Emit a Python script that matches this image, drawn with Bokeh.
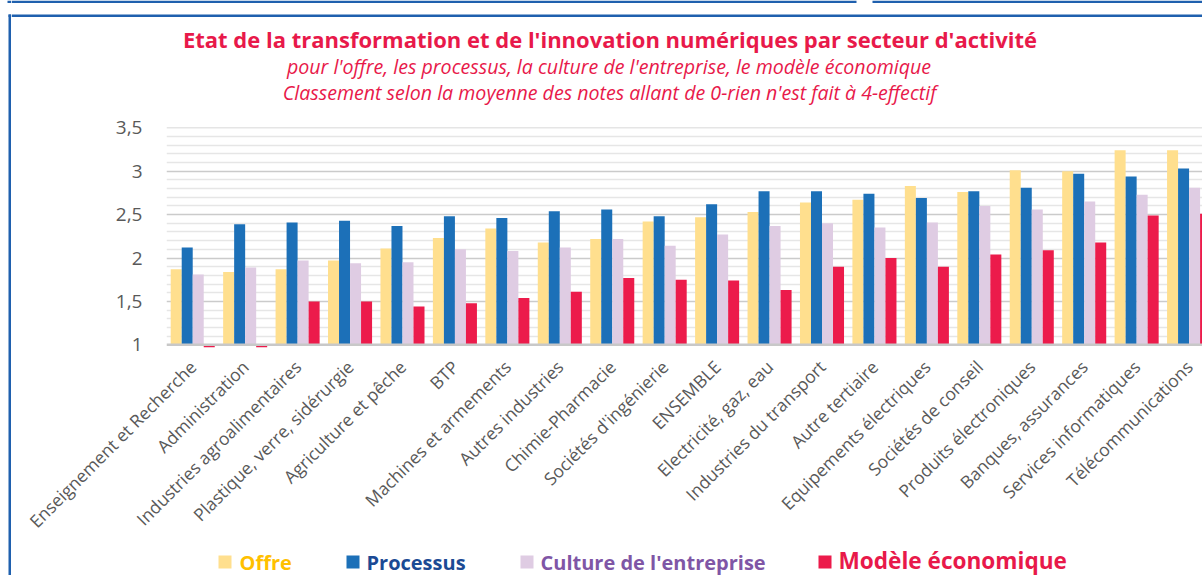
import math
from bokeh.plotting import figure
from bokeh.layouts import column, row
from bokeh.models import ColumnDataSource, FixedTicker, Range1d, Span
from bokeh.core.properties import value
from bokeh.transform import dodge
from bokeh.embed import file_html
from bokeh.resources import INLINE

# ---------------- data ----------------
sectors = ["Enseignement et Recherche", "Administration", "Industries agroalimentaires",
           "Plastique, verre, sidérurgie", "Agriculture et pêche", "BTP",
           "Machines et armements", "Autres industries", "Chimie-Pharmacie",
           "Sociétés d'ingénierie", "ENSEMBLE", "Electricité, gaz, eau",
           "Industries du transport", "Autre tertiaire", "Equipements électriques",
           "Sociétés de conseil", "Produits électroniques", "Banques, assurances",
           "Services informatiques", "Télécommunications"]
offre     = [1.87, 1.84, 1.87, 1.97, 2.11, 2.23, 2.34, 2.18, 2.22, 2.42,
             2.47, 2.53, 2.64, 2.67, 2.83, 2.76, 3.01, 3.00, 3.24, 3.24]
processus = [2.12, 2.39, 2.41, 2.43, 2.37, 2.48, 2.46, 2.54, 2.56, 2.48,
             2.62, 2.77, 2.77, 2.74, 2.69, 2.77, 2.81, 2.97, 2.94, 3.03]
culture   = [1.81, 1.89, 1.97, 1.94, 1.95, 2.10, 2.08, 2.12, 2.22, 2.14,
             2.27, 2.37, 2.40, 2.35, 2.41, 2.60, 2.56, 2.65, 2.73, 2.81]
modele    = [0.97, 0.97, 1.50, 1.50, 1.44, 1.48, 1.54, 1.61, 1.77, 1.75,
             1.74, 1.63, 1.90, 2.00, 1.90, 2.04, 2.09, 2.18, 2.49, 2.51]
series_names = ["Offre", "Processus", "Culture de l'entreprise", "Modèle économique"]
y_ticks = [1, 1.5, 2, 2.5, 3, 3.5]
y_tick_labels = ["1", "1,5", "2", "2,5", "3", "3,5"]
title = "Etat de la transformation et de l'innovation numériques par secteur d'activité"
subtitle1 = "pour l'offre, les processus, la culture de l'entreprise, le modèle économique"
subtitle2 = "Classement selon la moyenne des notes allant de 0-rien n'est fait à 4-effectif"

# ---------------- styles ----------------
FILL = ["#FFDF8E", "#1C70B8", "#DFCCE3", "#EC1B4B"]
LEG_TXT = ["#FFC000", "#1B4A94", "#7F56A6", "#E8194A"]
RED = "#E8194A"
GREY = "#595959"
FONT = "Open Sans"
BORDER = "#1F60AE"

PAGE_W, PAGE_H = 1202, 575
BORDER_W = 11        # strip holding the left frame line
COL_W = PAGE_W - BORDER_W
TOP_H = 110          # title band
LEG_H = 31           # legend band
MAIN_H = PAGE_H - TOP_H - LEG_H

ML, MR, MT = 155, 0, 17
FRAME_H = 220
MB = MAIN_H - MT - FRAME_H
XPX = 52.44
YPX = 86.8
FRAME_W = COL_W - ML - MR
X0 = -0.5
X1 = X0 + FRAME_W / XPX
Y1 = 3.5 + 0.3 / YPX
Y0 = Y1 - FRAME_H / YPX
BASE_SHIFT = 0.37    # alphabetic baseline correction, in em


def blank(w, h, x_left, y_top, y_bottom):
    f = figure(width=w, height=h, output_backend="svg", toolbar_location=None,
               x_range=Range1d(x_left, x_left + w), y_range=Range1d(y_bottom, y_top),
               x_axis_type=None, y_axis_type=None, title=None,
               min_border=0, min_border_left=0, min_border_right=0,
               min_border_top=0, min_border_bottom=0)
    f.outline_line_color = None
    f.grid.visible = False
    f.background_fill_color = "white"
    f.border_fill_color = "white"
    f.frame_align = False
    return f

# ---------------- left frame strip (full height) ----------------
strip = blank(BORDER_W, PAGE_H, 0, 0, PAGE_H)
strip.quad(left=[7, 8, 8], right=[BORDER_W, BORDER_W, 10.5], top=[0, 14, 14],
           bottom=[2.5, 16.5, PAGE_H], fill_color=BORDER, line_color=None)

# ---------------- title band ----------------
top = blank(COL_W, TOP_H, BORDER_W, 0, TOP_H)
top.quad(left=[BORDER_W, 872, BORDER_W], right=[856, PAGE_W, PAGE_W], top=[0, 0, 14],
         bottom=[2.5, 2.5, 16.5], fill_color=BORDER, line_color=None)
top.text(x=[609.5], y=[46.7 - BASE_SHIFT * 22], text=[title], text_align="center",
         text_baseline="alphabetic", text_font=value(FONT), text_font_style="bold",
         text_font_size="22px", text_color=RED)
top.text(x=[608.5, 609], y=[73.3 - BASE_SHIFT * 19.6, 99.3 - BASE_SHIFT * 19.6],
         text=[subtitle1, subtitle2], text_align="center",
         text_baseline="alphabetic", text_font=value(FONT), text_font_style="italic",
         text_font_size="19.6px", text_color=RED)

# ---------------- main chart ----------------
src = ColumnDataSource(dict(x=list(range(len(sectors))), offre=offre,
                            processus=processus, culture=culture, modele=modele))

p = figure(width=COL_W, height=MAIN_H, output_backend="svg", toolbar_location=None,
           title=None, x_range=Range1d(X0, X1), y_range=Range1d(Y0, Y1),
           min_border_left=ML, min_border_right=MR, min_border_top=MT,
           min_border_bottom=MB)
p.outline_line_color = None
p.background_fill_color = "white"
p.border_fill_color = "white"
p.frame_align = False

BW = 0.21
offs = [-0.315, -0.105, 0.105, 0.315]
for col, off, fc in zip(["offre", "processus", "culture", "modele"], offs, FILL):
    p.vbar(x=dodge("x", off, range=p.x_range), top=col, bottom=1, width=BW,
           source=src, fill_color=fc, line_color=None)

p.xaxis.ticker = FixedTicker(ticks=list(range(len(sectors))))
p.xaxis.major_label_overrides = {i: s for i, s in enumerate(sectors)}
p.xaxis.major_label_orientation = math.pi / 4
p.xaxis.axis_line_color = None
p.xaxis.major_tick_line_color = None
p.xaxis.minor_tick_line_color = None
p.xaxis.major_label_standoff = 10
p.xaxis.major_label_text_font = FONT
p.xaxis.major_label_text_font_size = "17.5px"
p.xaxis.major_label_text_color = GREY

minor = [round(1 + 0.1 * i, 1) for i in range(26) if (i % 5) != 0]
p.yaxis.ticker = FixedTicker(ticks=y_ticks, minor_ticks=minor)
p.yaxis.major_label_overrides = {t: l for t, l in zip(y_ticks, y_tick_labels)}
p.yaxis.axis_line_color = None
p.yaxis.major_tick_line_color = None
p.yaxis.minor_tick_line_color = None
p.yaxis.major_label_standoff = 18
p.yaxis.major_label_text_font = FONT
p.yaxis.major_label_text_font_size = "19px"
p.yaxis.major_label_text_color = GREY

p.xgrid.grid_line_color = None
p.ygrid.ticker = FixedTicker(ticks=y_ticks[1:], minor_ticks=minor)
p.ygrid.grid_line_color = "#CBCBCB"
p.ygrid.grid_line_width = 1.6
p.ygrid.minor_grid_line_color = "#E6E6E6"
p.ygrid.minor_grid_line_width = 1.6
p.ygrid.level = "underlay"

p.add_layout(Span(location=1, dimension="width", line_color="#C8C8C8", line_width=2.6))

# ---------------- legend band ----------------
leg = blank(COL_W, LEG_H, BORDER_W, PAGE_H - LEG_H, PAGE_H)
sq_left = [218, 346, 520, 818]
txt_left = [239, 366, 540, 838]
txt_size = [20, 20, 20, 22.6]
txt_base = [569, 569, 569, 568.2]
leg.quad(left=sq_left, right=[s + 13 for s in sq_left], top=[555] * 4, bottom=[568] * 4,
         fill_color=FILL, line_color=None)
for name, tl, tc, fs, tb in zip(series_names, txt_left, LEG_TXT, txt_size, txt_base):
    leg.text(x=[tl], y=[tb - BASE_SHIFT * fs], text=[name], text_align="left",
             text_baseline="alphabetic", text_font=value(FONT), text_font_style="bold",
             text_font_size=f"{fs}px", text_color=tc)

layout = row(strip, column(top, p, leg))
open("out.html", "w").write(file_html(layout, INLINE))
